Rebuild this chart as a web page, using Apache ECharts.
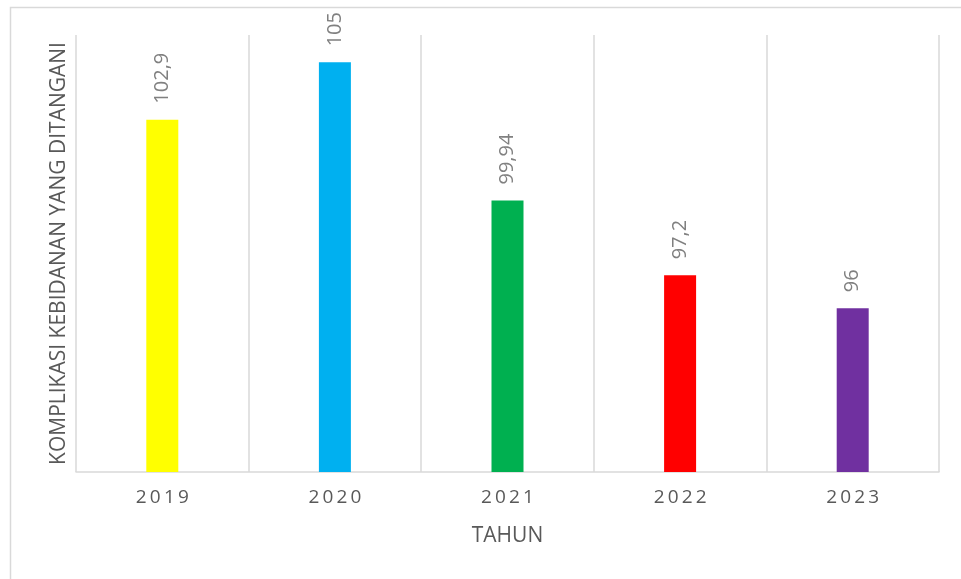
<!DOCTYPE html>
<html>
<head>
<meta charset="utf-8">
<script src="https://cdn.jsdelivr.net/npm/echarts@6/dist/echarts.min.js"></script>
<style>
html,body{margin:0;padding:0;background:#fff;}
#chart{width:961px;height:579px;}
</style>
</head>
<body>
<div id="chart"></div>
<script>
const categories = ['2019', '2020', '2021', '2022', '2023'];
const values = [102.9, 105, 99.94, 97.2, 96];
const valueLabels = ['102,9', '105', '99,94', '97,2', '96'];
const barColors = ['#FFFF00', '#00B0F0', '#00B050', '#FF0000', '#7030A0'];
const xAxisTitle = 'TAHUN';
const yAxisTitle = 'KOMPLIKASI KEBIDANAN YANG DITANGANI';

const chart = echarts.init(document.getElementById('chart'), null, {renderer: 'canvas'});
const font = '"Open Sans", "Liberation Sans", sans-serif';
chart.setOption({
  animation: false,
  backgroundColor: '#fff',
  graphic: [{
    type: 'rect', left: 8, top: 5, silent: true,
    shape: {width: 1100, height: 1100},
    style: {fill: 'none', stroke: '#d9d9d9', lineWidth: 1.5}
  }],
  grid: {left: 76, right: 22, top: 35, bottom: 107, containLabel: false},
  xAxis: {
    type: 'category',
    data: categories,
    boundaryGap: true,
    axisLine: {show: true, lineStyle: {color: '#d9d9d9', width: 1.5}},
    axisTick: {show: false},
    splitLine: {show: true, lineStyle: {color: '#d9d9d9', width: 1.5}},
    axisLabel: {
      color: '#595959', fontSize: 19, fontFamily: font, margin: 16,
      formatter: v => v.split('').join('\u2009')
    },
    name: xAxisTitle,
    nameLocation: 'middle',
    nameGap: 54,
    nameTextStyle: {color: '#595959', fontSize: 21, fontFamily: font}
  },
  yAxis: {
    type: 'value',
    min: 90, max: 106,
    axisLine: {show: false},
    axisTick: {show: false},
    axisLabel: {show: false},
    splitLine: {show: false},
    name: yAxisTitle,
    nameLocation: 'middle',
    nameGap: 6,
    nameTextStyle: {color: '#595959', fontSize: 21, fontFamily: font}
  },
  series: [{
    type: 'bar',
    barWidth: 32,
    data: values.map((v, i) => ({value: v, itemStyle: {color: barColors[i]}})),
    label: {
      show: true,
      position: 'top',
      rotate: 90,
      align: 'left',
      verticalAlign: 'middle',
      distance: 16,
      color: '#808080',
      fontSize: 20,
      fontFamily: font,
      formatter: p => valueLabels[p.dataIndex]
    }
  }]
});
</script>
</body>
</html>
